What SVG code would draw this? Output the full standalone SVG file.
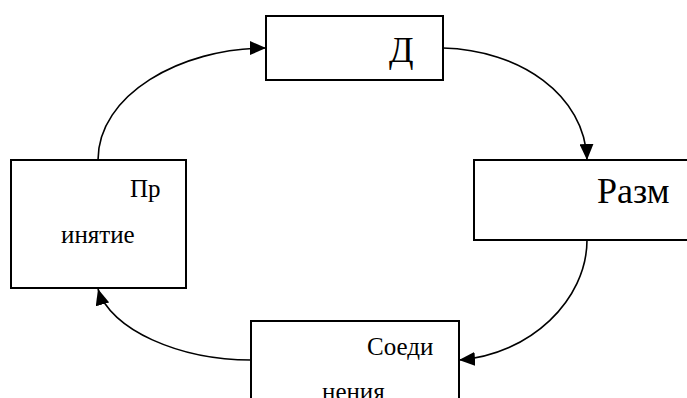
<svg xmlns="http://www.w3.org/2000/svg" width="687" height="398" viewBox="0 0 687 398">
<style>
.box{fill:#fff;stroke:#000;stroke-width:2}
.con{fill:none;stroke:#000;stroke-width:1.6}
.t{fill:#000;font-family:"Liberation Serif","Times New Roman",serif}
</style>
<defs>
<marker id="arr" viewBox="0 0 16 14" refX="16" refY="7" markerWidth="16" markerHeight="14" markerUnits="userSpaceOnUse" orient="auto">
<path d="M0,0 L16,7 L0,14 Z" fill="#000"/>
</marker>
</defs>
<rect width="687" height="398" fill="#fff"/>
<g id="connectors">
<path class="con" d="M98,160 C98,95 180,48 266,48" marker-end="url(#arr)"/>
<path class="con" d="M443,48 C520,50 585,95 587,160" marker-end="url(#arr)"/>
<path class="con" d="M587,240 C587,300 530,355 459,360" marker-end="url(#arr)"/>
<path class="con" d="M251,360 C180,360 110,330 98,289" marker-end="url(#arr)"/>
</g>
<g id="node-d">
<rect class="box" x="266" y="16" width="177" height="64"/>
<text class="t" x="389" y="62" font-size="36">Д</text>
</g>
<g id="node-razm">
<rect class="box" x="474" y="160" width="230" height="80"/>
<text class="t" x="597" y="203" font-size="36">Разм</text>
</g>
<g id="node-prinyatie">
<rect class="box" x="11" y="160" width="175" height="128"/>
<text class="t" x="130" y="197" font-size="25">Пр</text>
<text class="t" x="61" y="243" font-size="25">инятие</text>
</g>
<g id="node-soedineniya">
<rect class="box" x="251" y="321" width="208" height="100"/>
<text class="t" x="367" y="355" font-size="25">Соеди</text>
<text class="t" x="322" y="400" font-size="25">нения</text>
</g>
</svg>
